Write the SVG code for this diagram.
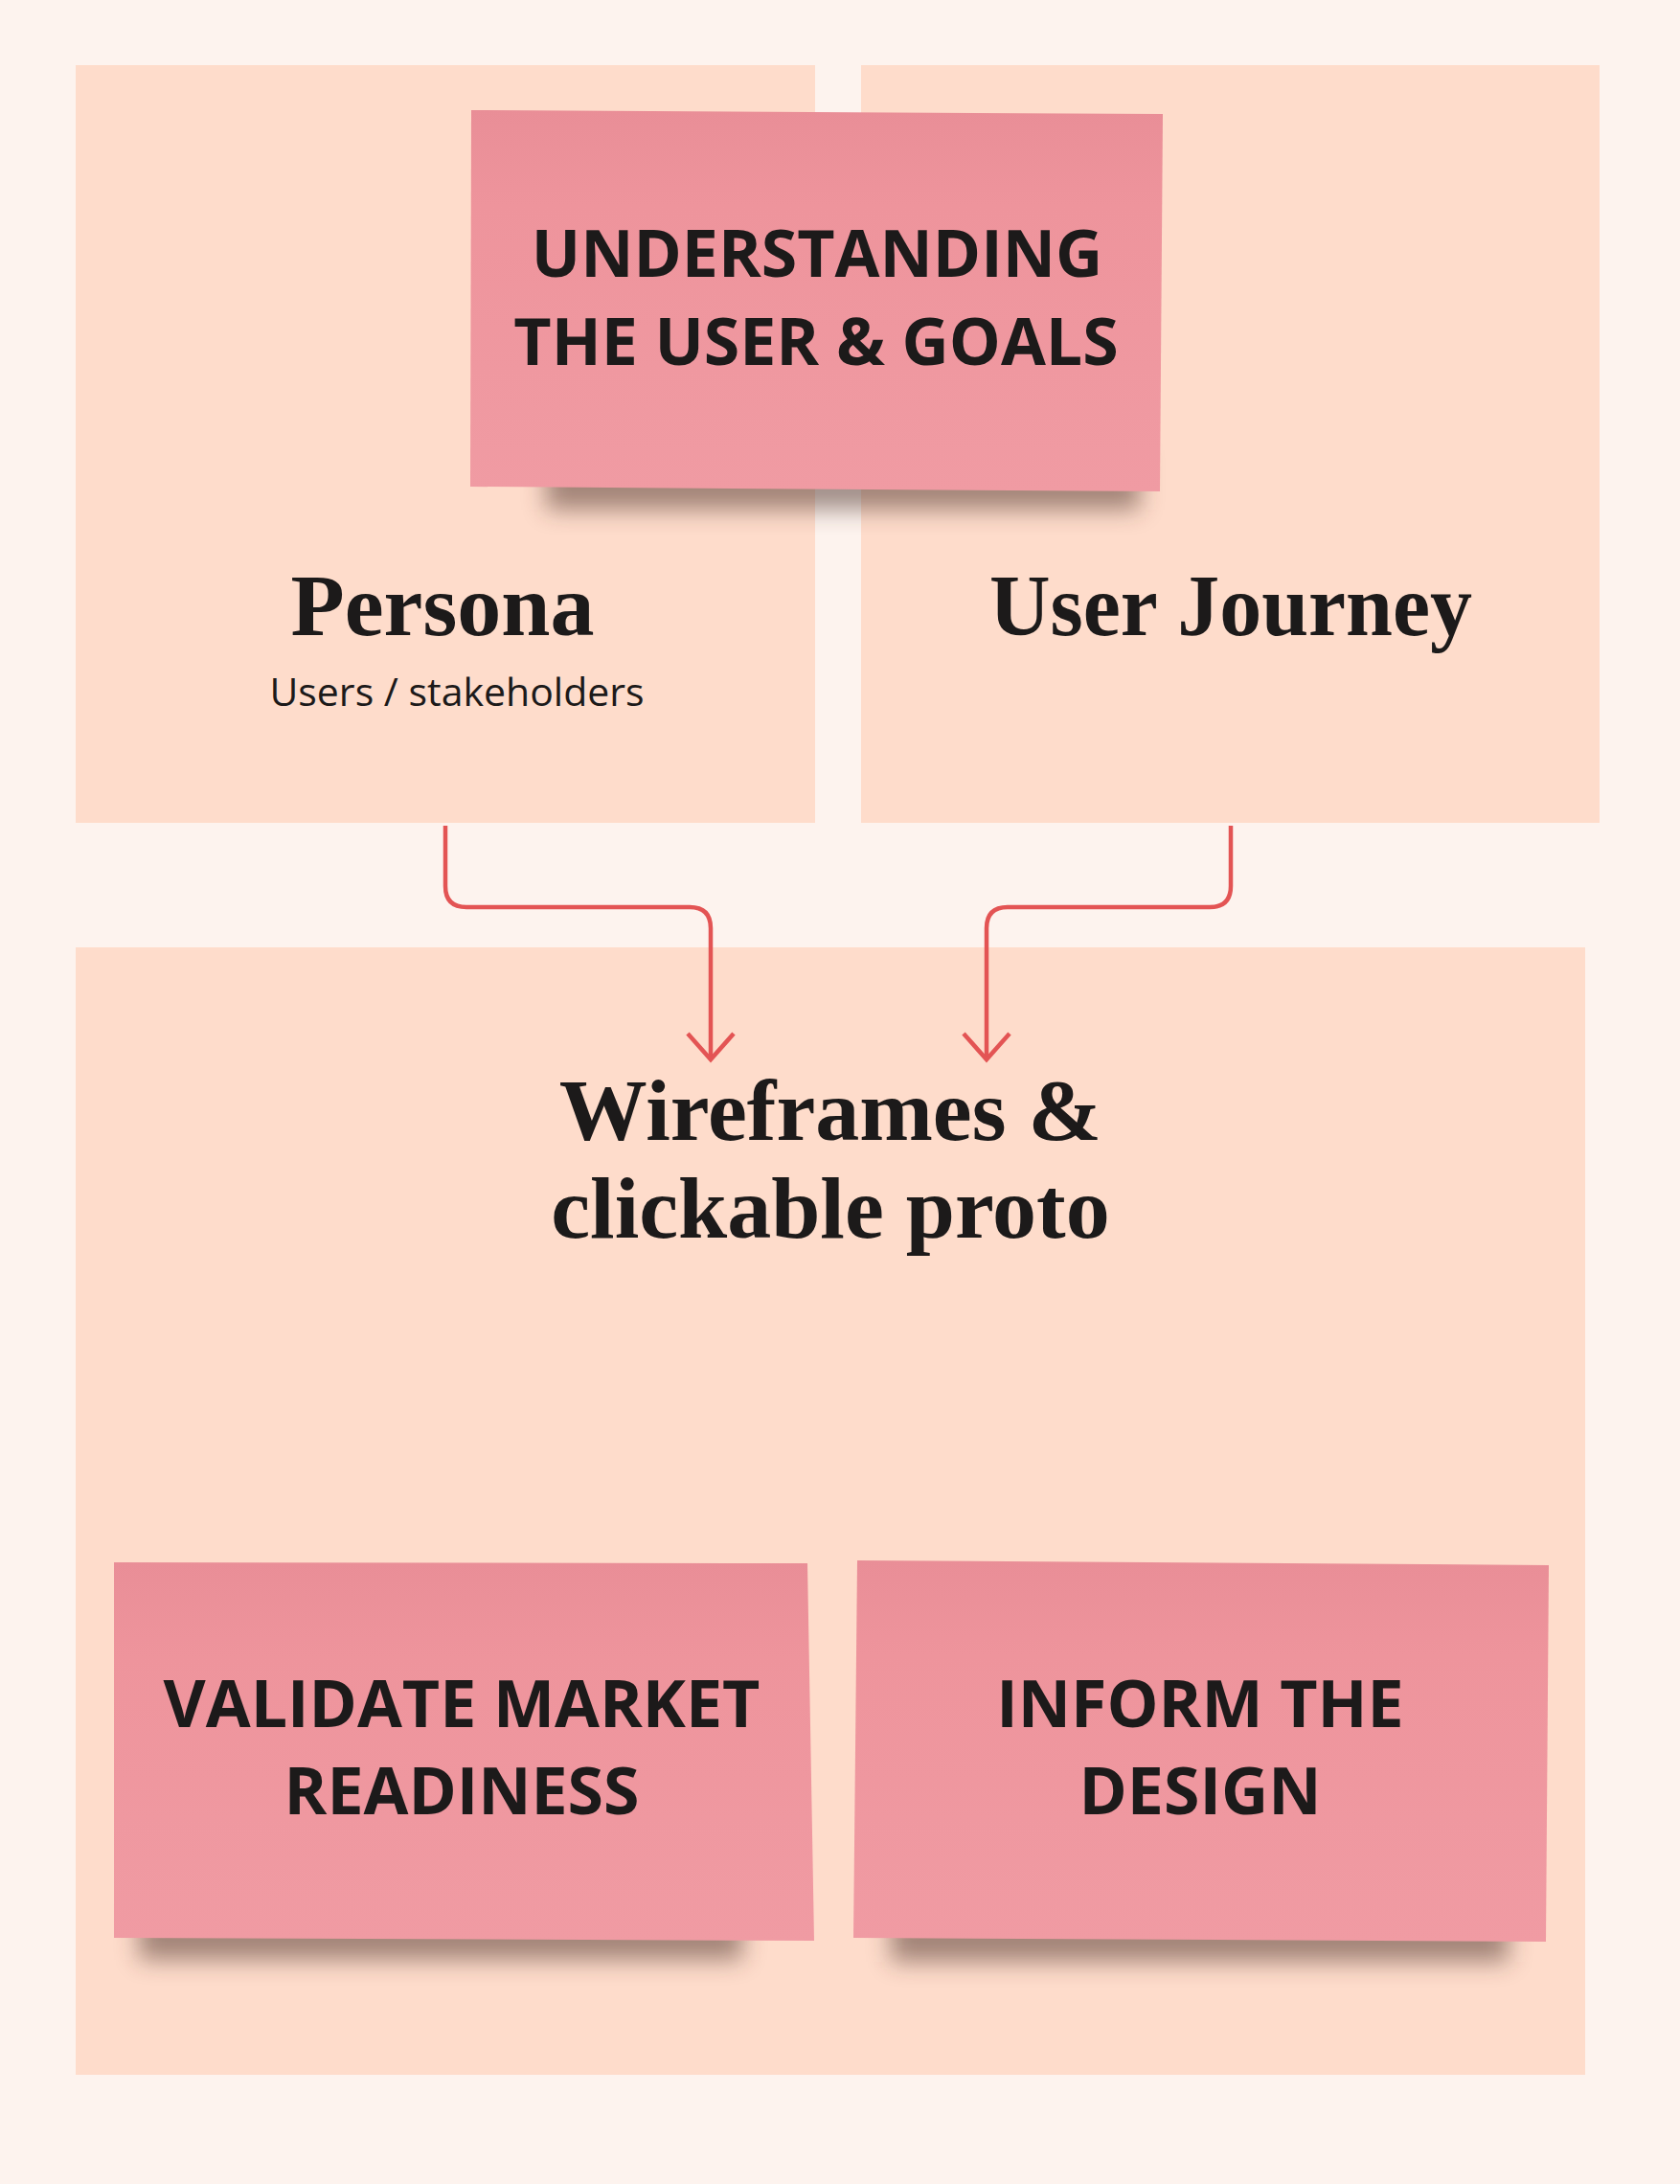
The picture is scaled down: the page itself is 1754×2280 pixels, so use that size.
<svg xmlns="http://www.w3.org/2000/svg" width="1754" height="2280" viewBox="0 0 1754 2280">
  <style>
    .panel { fill: #FEDCCB; }
    .sticky { fill: url(#pinkGrad); }
    .shadow { fill: #4a2e26; opacity: 0.5; filter: url(#blur); }
    .sticky-text { font-family: "Open Sans", "Noto Sans", "Liberation Sans", sans-serif; font-weight: 700; font-size: 68px; fill: #1c1a1a; text-anchor: middle; }
    .title { font-family: "Liberation Serif", "DejaVu Serif", serif; font-weight: 700; font-size: 92px; fill: #1c1a1a; text-anchor: middle; }
    .sub { font-family: "Open Sans", "Noto Sans", "Liberation Sans", sans-serif; font-weight: 400; font-size: 41px; fill: #1c1a1a; text-anchor: middle; }
    .conn { fill: none; stroke: #E35454; stroke-width: 4.5; stroke-linejoin: round; }
  </style>
  <defs>
    <linearGradient id="pinkGrad" x1="0" y1="0" x2="0" y2="1">
      <stop offset="0" stop-color="#E98E97"/>
      <stop offset="0.25" stop-color="#EE949C"/>
      <stop offset="1" stop-color="#F09BA3"/>
    </linearGradient>
    <filter id="blur" x="-20%" y="-100%" width="140%" height="300%">
      <feGaussianBlur stdDeviation="12"/>
    </filter>
    <marker id="chev" markerUnits="userSpaceOnUse" markerWidth="60" markerHeight="60" viewBox="-30 -30 60 60" refX="0" refY="0" orient="auto">
      <path d="M-27,-24 L0,0 L-27,24" fill="none" stroke="#E35454" stroke-width="4.5"/>
    </marker>
  </defs>

  <rect x="0" y="0" width="1754" height="2280" fill="#FDF3EE"/>

  <g id="panel-persona">
    <rect class="panel" x="79" y="68" width="772" height="791"/>
    <text class="title" x="462" y="663">Persona</text>
    <text class="sub" x="477" y="737">Users / stakeholders</text>
  </g>

  <g id="panel-journey">
    <rect class="panel" x="899" y="68" width="771" height="791"/>
    <text class="title" x="1285" y="663" textLength="504" lengthAdjust="spacingAndGlyphs">User Journey</text>
  </g>

  <g id="panel-wireframes">
    <rect class="panel" x="79" y="989" width="1576" height="1177"/>
    <text class="title" x="867" y="1190">Wireframes &amp;</text>
    <text class="title" x="867" y="1292">clickable proto</text>
  </g>

  <g id="sticky-understanding">
    <rect class="shadow" x="570" y="470" width="620" height="62"/>
    <polygon class="sticky" points="492,115 1214,119 1211,513 491,508"/>
    <text class="sticky-text" x="853" y="289">UNDERSTANDING</text>
    <text class="sticky-text" x="852" y="381">THE USER &amp; GOALS</text>
  </g>

  <g id="sticky-validate">
    <rect class="shadow" x="145" y="1980" width="630" height="66"/>
    <polygon class="sticky" points="119,1631 843,1632 850,2026 119,2023"/>
    <text class="sticky-text" x="482" y="1803">VALIDATE MARKET</text>
    <text class="sticky-text" x="482" y="1894">READINESS</text>
  </g>

  <g id="sticky-inform">
    <rect class="shadow" x="930" y="1982" width="645" height="66"/>
    <polygon class="sticky" points="895,1629 1617,1634 1614,2027 891,2023"/>
    <text class="sticky-text" x="1253" y="1803">INFORM THE</text>
    <text class="sticky-text" x="1253" y="1894">DESIGN</text>
  </g>

  <g id="connectors">
    <path class="conn" d="M465,862 V925 Q465,947 487,947 H720 Q742,947 742,969 V1106" marker-end="url(#chev)"/>
    <path class="conn" d="M1285,862 V925 Q1285,947 1263,947 H1052 Q1030,947 1030,969 V1106" marker-end="url(#chev)"/>
  </g>
</svg>
